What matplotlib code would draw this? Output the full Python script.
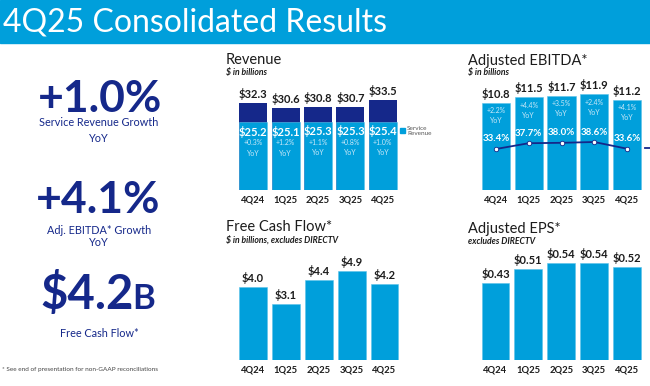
import matplotlib.pyplot as plt
import numpy as np

plt.rcParams['font.family'] = ['Lato', 'DejaVu Sans']
plt.rcParams['text.parse_math'] = False

W, H = 650, 386

quarters = ['4Q24', '1Q25', '2Q25', '3Q25', '4Q25']
revenue_total = [32.3, 30.6, 30.8, 30.7, 33.5]
service_revenue = [25.2, 25.1, 25.3, 25.3, 25.4]
service_yoy = ['+0.3%', '+1.2%', '+1.1%', '+0.8%', '+1.0%']
ebitda = [10.8, 11.5, 11.7, 11.9, 11.2]
ebitda_yoy = ['+2.2%', '+4.4%', '+3.5%', '+2.4%', '+4.1%']
ebitda_margin = [33.4, 37.7, 38.0, 38.6, 33.6]
fcf = [4.0, 3.1, 4.4, 4.9, 4.2]
eps = [0.43, 0.51, 0.54, 0.54, 0.52]

BLUE = '#009FDB'
NAVY = '#15288A'
INK = '#1c1c1c'
PALE = '#c9e8f8'

fig = plt.figure(figsize=(W / 100, H / 100), dpi=100)
fig.patch.set_facecolor('white')


def fx(x):
    return x / W


def fy(y):
    return 1 - y / H


def bar_axes(x0, x1, top, bottom, ymax):
    ax = fig.add_axes([fx(x0), fy(bottom), (x1 - x0) / W, (bottom - top) / H])
    ax.set_xlim(-0.5, 4.5)
    ax.set_ylim(0, ymax)
    ax.axis('off')
    return ax


def label(ax, x, y, text, dy, **kw):
    kw.setdefault('ha', 'center')
    kw.setdefault('va', 'center')
    ax.annotate(text, xy=(x, y), xytext=(0, dy), textcoords='offset pixels',
                annotation_clip=False, **kw)


def quarter_labels(ax):
    for i, q in enumerate(quarters):
        label(ax, i, 0, q, -10, fontsize=6.8, fontweight='bold', color=INK)


def panel_title(x, y, title, sub):
    fig.text(fx(x), fy(y), title, fontsize=10.5, color=INK, va='center', ha='left')
    fig.text(fx(x), fy(y + 12.5), sub, fontsize=6.2, color=INK, va='center',
             ha='left', style='italic', fontweight='bold')


# header band
fig.patches.append(plt.Rectangle((0, fy(43)), 1, 43 / H, transform=fig.transFigure,
                                 color=BLUE, zorder=0))
fig.text(fx(3), fy(31), '4Q25 Consolidated Results', fontsize=23, color='white',
         va='baseline', ha='left')

# left column highlights
fig.text(fx(100), fy(112), '+1.0%', fontsize=32, fontweight='bold', color=NAVY,
         ha='center', va='baseline')
fig.text(fx(99), fy(126.5), 'Service Revenue Growth', fontsize=7.8, color=NAVY,
         ha='center', va='baseline')
fig.text(fx(99), fy(142.5), 'YoY', fontsize=7.8, color=NAVY, ha='center', va='baseline')

fig.text(fx(98), fy(213), '+4.1%', fontsize=32, fontweight='bold', color=NAVY,
         ha='center', va='baseline')
fig.text(fx(99), fy(234), 'Adj. EBITDA* Growth', fontsize=7.8, color=NAVY,
         ha='center', va='baseline')
fig.text(fx(99), fy(246), 'YoY', fontsize=7.8, color=NAVY, ha='center', va='baseline')

fig.text(fx(134), fy(309), '$4.2', fontsize=34, fontweight='bold', color=NAVY,
         ha='right', va='baseline')
fig.text(fx(132.5), fy(309), 'B', fontsize=25, fontweight='bold', color=NAVY,
         ha='left', va='baseline')
fig.text(fx(99), fy(337), 'Free Cash Flow*', fontsize=7.8, color=NAVY,
         ha='center', va='baseline')

fig.text(fx(2), fy(369), '* See end of presentation for non-GAAP reconciliations',
         fontsize=4.6, color='#444444', ha='left', va='center')

x = np.arange(len(quarters))

# Revenue
panel_title(226, 60.5, 'Revenue', '$ in billions')
ax = bar_axes(237, 399, 60, 190, 130 / 2.693)
ax.bar(x, revenue_total, width=0.86, color=NAVY)
ax.bar(x, service_revenue, width=0.86, color=BLUE, edgecolor='#5cc3ea', linewidth=0.4)
for i in x:
    label(ax, i, revenue_total[i], f'${revenue_total[i]:.1f}', 9,
          fontsize=8, fontweight='bold', color=INK)
    label(ax, i, service_revenue[i], f'${service_revenue[i]:.1f}', -9.5,
          fontsize=8, fontweight='bold', color='white')
    label(ax, i, service_revenue[i], service_yoy[i], -20.5, fontsize=5, color=PALE)
    label(ax, i, service_revenue[i], 'YoY', -31, fontsize=5, color=PALE)
quarter_labels(ax)
fig.patches.append(plt.Rectangle((fx(400), fy(133)), 5 / W, 5 / H,
                                 transform=fig.transFigure, color=BLUE))
fig.text(fx(407), fy(131), 'Service\nRevenue', fontsize=4.6, color='#555555',
         ha='left', va='center', linespacing=1.2)

# Adjusted EBITDA
panel_title(468, 60.5, 'Adjusted EBITDA*', '$ in billions')
ax = bar_axes(479.6, 643.4, 60, 190, 130 / 8.06)
ax.bar(x, ebitda, width=0.855, color=BLUE, edgecolor='#5cc3ea', linewidth=0.4)
ax2 = ax.twinx()
ax2.set_ylim(33.4 - 41 / 1.346, 33.4 + 89 / 1.346)
ax2.axis('off')
ax2.plot(x, ebitda_margin, color=NAVY, linewidth=1.3, marker='o', markersize=3.2,
         markerfacecolor='white', markeredgecolor=NAVY, markeredgewidth=0.6)
for i in x:
    label(ax, i, ebitda[i], f'${ebitda[i]:.1f}', 9,
          fontsize=8, fontweight='bold', color=INK)
    label(ax, i, ebitda[i], ebitda_yoy[i], -8, fontsize=5, color=PALE)
    label(ax, i, ebitda[i], 'YoY', -18, fontsize=5, color=PALE)
    label(ax2, i, ebitda_margin[i], f'{ebitda_margin[i]:.1f}%', 10,
          fontsize=7, fontweight='bold', color='white')
quarter_labels(ax)
fig.lines.append(plt.Line2D([fx(645), fx(650)], [fy(147.5), fy(147.5)],
                            transform=fig.transFigure, color=NAVY, linewidth=1.3))

# Free Cash Flow
panel_title(226, 227, 'Free Cash Flow*', '$ in billions, excludes DIRECTV')
ax = bar_axes(236.6, 400.9, 250, 360, 110 / 18.2)
ax.bar(x, fcf, width=0.85, color=BLUE, edgecolor='#5cc3ea', linewidth=0.4)
for i in x:
    label(ax, i, fcf[i], f'${fcf[i]:.1f}', 9, fontsize=8, fontweight='bold', color=INK)
quarter_labels(ax)

# Adjusted EPS
panel_title(468, 229, 'Adjusted EPS*', 'excludes DIRECTV')
ax = bar_axes(479.1, 643.4, 250, 360, 110 / 179)
ax.bar(x, eps, width=0.85, color=BLUE, edgecolor='#5cc3ea', linewidth=0.4)
for i in x:
    label(ax, i, eps[i], f'${eps[i]:.2f}', 9, fontsize=8, fontweight='bold', color=INK)
quarter_labels(ax)

fig.savefig('out.png', dpi=100)
